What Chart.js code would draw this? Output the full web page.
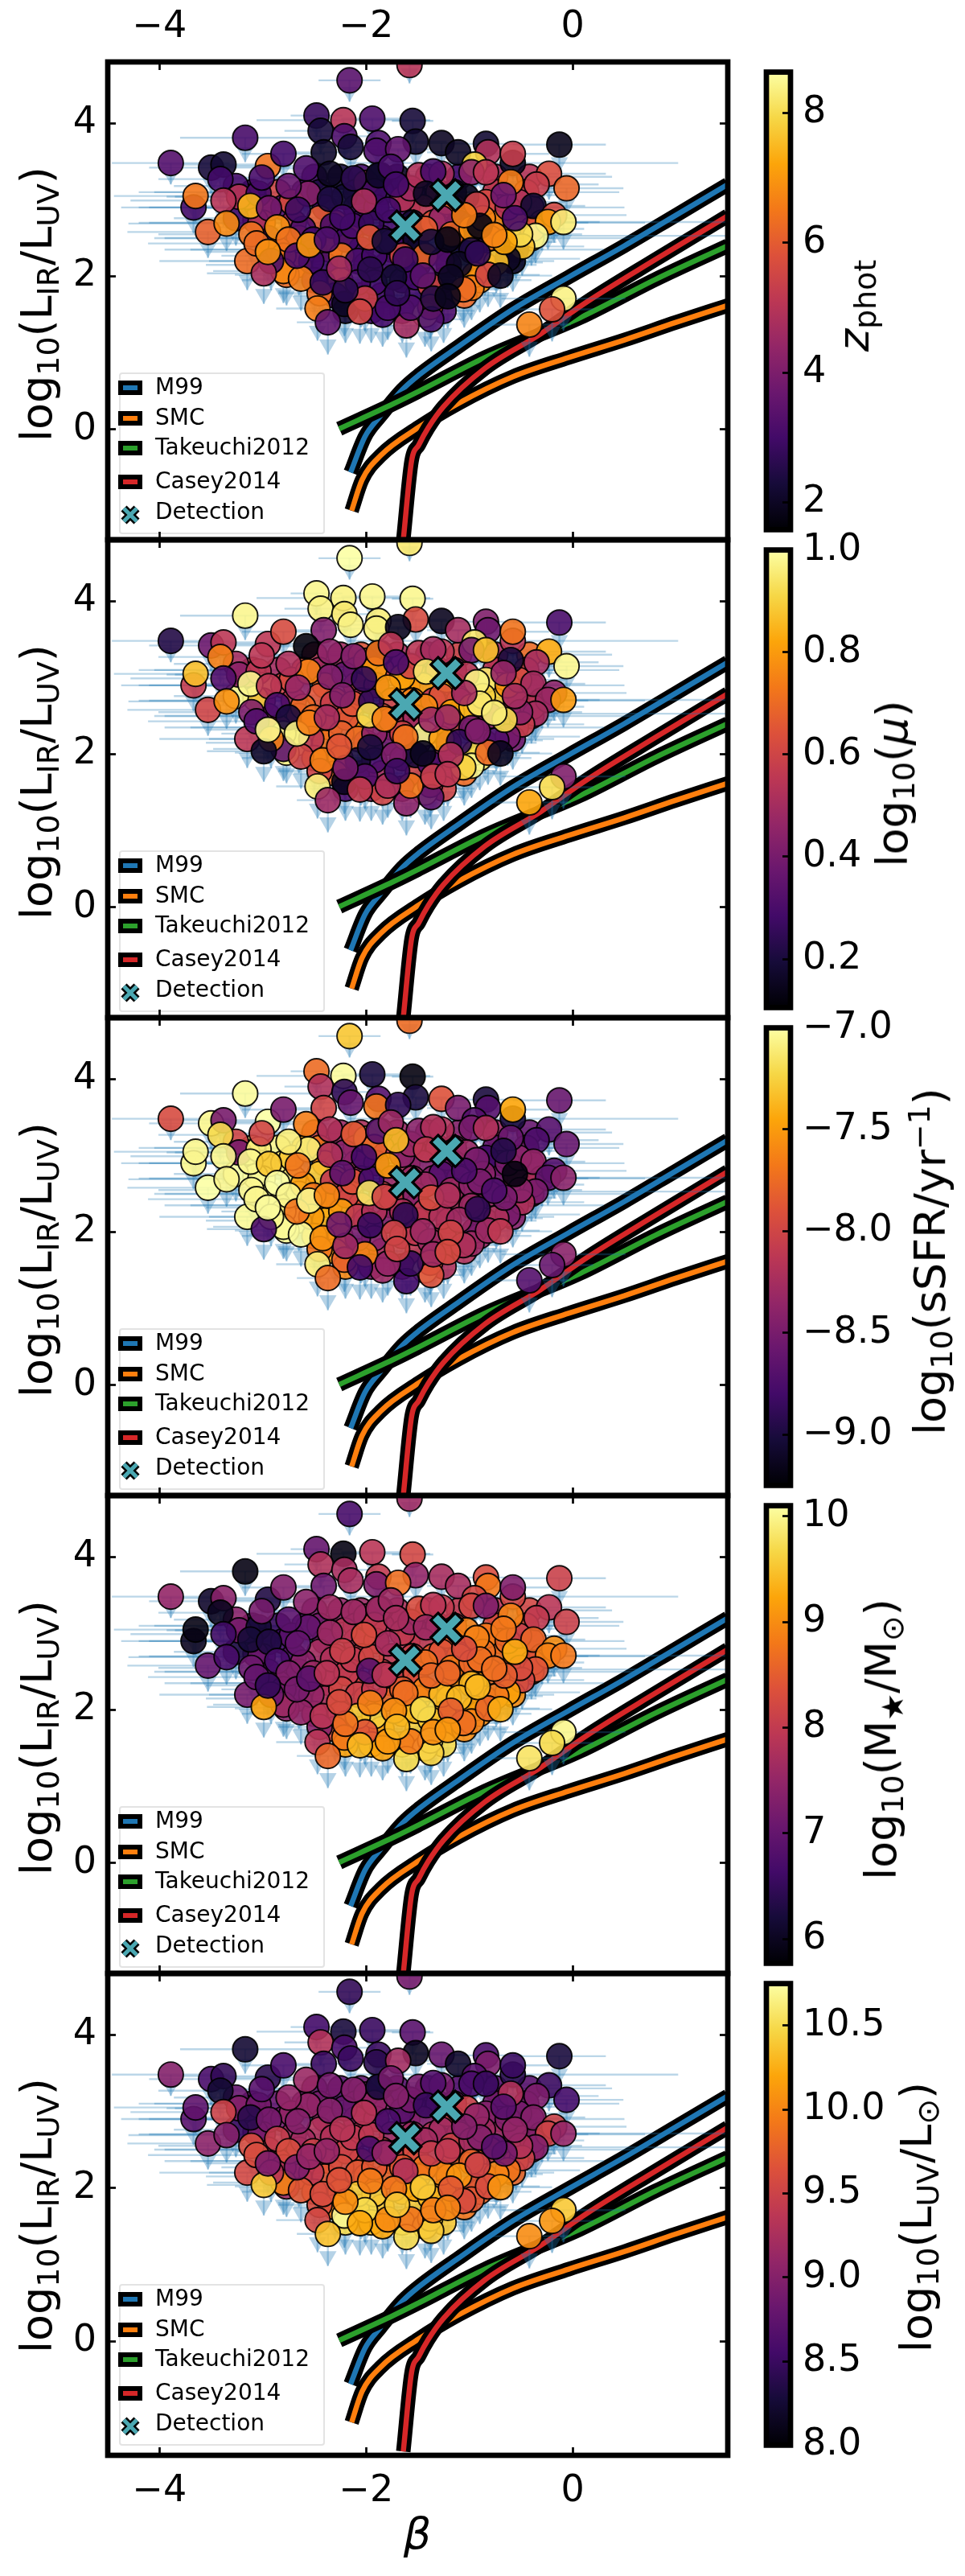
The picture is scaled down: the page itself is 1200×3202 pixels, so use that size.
<!DOCTYPE html>
<html>
<head>
<meta charset="utf-8">
<title>IRX beta</title>
<script src="https://cdn.jsdelivr.net/npm/chart.js@4/dist/chart.umd.min.js"></script>
<style>
  html, body { margin: 0; background: #fff; }
  #page { position: relative; width: 1200px; height: 3202px; overflow: hidden; }
  canvas { position: absolute; }
  .lab { position: absolute; white-space: nowrap; font: 54px "DejaVu Sans"; color: #000; line-height: 1; }
  .lab sub { font-size: .7em; vertical-align: -.24em; line-height: 0; }
  .lab sup { font-size: .7em; vertical-align: .5em; line-height: 0; }
  .lab i { font-style: italic; }
</style>
</head>
<body>
<div id="page"></div>
<script>
// galaxies, same order in every panel (last one is drawn on top)
const betas = [
  -2.5,-2.25,-2.05,-1.7,-1.4,-1.1,-.75,-.42,
  -3.1,-2.85,-2.6,-2.45,-2.1,-1.85,-1.55,-1.3,-1.15,-.75,-.45,
  -3.0,-2.8,-2.4,-2.1,-1.9,-1.6,-1.45,-1.15,-.7,-.4,
  -3.0,-2.7,-2.3,-2.05,-1.75,-1.55,-1.35,-1.1,-.75,-.55,-.3,
  -2.95,-2.65,-2.15,-1.85,-1.65,-1.05,-.8,-.4,
  -2.85,-2.5,-2.35,-2.05,-1.75,-1.5,-1.2,-.95,-.55,
  -2.65,-2.4,-2.0,-1.8,-1.5,-1.2,-.85,
  -2.25,-1.65,-1.25,-.9,-2.5,
  -2.3,-2.05,-1.85,-1.5,-1.25,-1.05,
  -2.2,-1.95,-1.65,-1.25,
  -2.72,-2.56,-2.45,-2.61,-2.51,-2.32,-2.19,-2.24,-2.08,-1.92,
  -1.76,-1.52,-1.65,-1.43,-1.27,-1.52,-1.38,-1.92,-2.08,-2.21,
  -1.84,-1.43,-1.38,-2.13,-1.95,-2.21,-2.0,-1.86,-1.92,-1.65,
  -1.57,-1.49,-1.27,-1.22,-1.27,-1.43,-1.17,-.98,-.84,-.87,
  -.63,-.39,-.52,-.98,-.95,-.98,-.58,-3.07,-3.15,-3.26,
  -3.26,-2.95,-3.23,-3.04,-2.8,-2.77,-2.53,-2.45,-.09,-.2,
  -.42,-3.89,-2.16,-1.58,-2.48,-2.22,-1.94,-1.55,-2.44,-3.17,
  -2.21,-1.88,-2.8,-2.15,-1.52,-1.9,-1.69,-2.41,-1.27,-1.11,
  -.84,-.82,-.58,-.58,-.13,-.23,-.06,-.6,-.35,-.38,
  -.18,-.24,-.36,-.49,-.51,-.63,-.74,-.82,-.7,-.95,
  -.98,-.84,-1.03,-.93,-.9,-3.5,-3.38,-3.67,-3.65,-3.53,
  -3.41,-3.38,-3.35,-3.12,-2.94,-3.01,-2.75,-2.66,-2.86,-2.75,
  -3.11,-3.15,-3.06,-2.8,-2.92,-2.99,-2.95,-2.63,-2.67,-2.55,
  -2.58,-2.35,-2.12,-1.88,-1.76,-1.71,-1.35,-1.42,-2.02,-1.79,
  -2.35,-2.23,-2.38,-1.97,-1.82,-1.62,-2.01,-2.47,-2.42,-2.2,
  -2.26,-1.96,-2.06,-2.37,-1.45,-1.73,-1.37,-1.61,-1.57,-1.79,
  -1.7,-1.06,-1.1,-1.18,-1.35,-1.21,-.92,-1.05,-1.37,-1.21,
  -.66,-.76,-.67,-.56,-.09
];
const irx = [
  3.3,3.3,3.3,3.3,3.3,3.3,3.3,3.3,
  3.1,3.1,3.1,3.1,3.1,3.1,3.1,3.1,3.1,3.1,3.1,
  2.9,2.9,2.9,2.9,2.9,2.9,2.9,2.9,2.9,2.9,
  2.7,2.7,2.7,2.7,2.7,2.7,2.7,2.7,2.7,2.7,2.7,
  2.5,2.5,2.5,2.5,2.5,2.5,2.5,2.5,
  2.35,2.35,2.35,2.35,2.35,2.35,2.35,2.35,2.35,
  2.15,2.15,2.15,2.15,2.15,2.15,2.15,
  1.95,1.95,1.95,1.95,1.95,
  1.75,1.75,1.75,1.75,1.75,1.75,
  1.55,1.55,1.55,1.55,
  2.97,3.08,2.76,2.62,2.48,2.66,2.48,2.27,2.2,2.27,
  2.45,2.48,2.27,2.27,2.2,1.99,1.88,1.92,1.92,1.64,
  1.5,1.5,1.6,2.66,2.69,3.04,3.22,3.32,3.11,3.01,
  3.15,3.32,3.34,2.97,2.76,2.62,2.55,2.62,2.97,2.76,
  2.9,2.62,2.97,2.34,2.02,1.85,2.2,2.73,3.04,3.18,
  2.76,3.44,3.04,3.08,2.27,2.02,2.2,1.78,1.71,1.57,
  1.37,3.48,4.56,4.76,4.1,4.04,4.06,4.03,3.9,3.81,
  3.83,3.74,3.6,3.69,3.76,3.64,3.66,3.62,3.74,3.62,
  3.73,3.62,3.48,3.6,3.72,3.34,3.15,3.23,3.2,2.92,
  2.8,2.71,2.53,2.39,2.55,2.23,2.18,2.02,2.01,3.46,
  3.36,3.36,3.04,2.94,2.66,3.42,3.46,2.9,3.05,2.58,
  3.27,2.99,2.69,2.92,2.89,3.29,3.18,2.87,2.64,2.48,
  2.55,2.2,2.43,2.07,2.2,2.04,2.32,1.97,2.27,2.41,
  3.41,3.34,3.28,3.32,3.43,3.2,3.37,3.08,2.98,2.87,
  3.01,2.77,2.48,2.51,2.46,2.22,1.71,1.58,1.92,1.82,
  2.1,2.09,1.54,1.4,2.01,1.99,1.44,1.36,1.59,1.59,
  1.78,1.83,2.16,1.99,1.71,1.74,2.3,2.8,2.45,2.48,
  2.45,2.54,3.06,2.76,2.71
];
const betaErr = [
  .5,.4,.4,.4,.4,.4,.5,.8,
  1.1,1.2,.7,.5,.4,.4,.4,.4,.4,.7,.9,
  1.2,1.3,.6,.4,.4,.4,.4,.5,.6,.9,
  1.2,1.4,.6,.4,.4,.4,.4,.5,.6,.7,1.0,
  1.1,1.3,.5,.4,.4,.4,.6,1.0,
  1.1,1.2,.6,.4,.4,.4,.4,.5,.85,
  .9,.7,.4,.4,.4,.4,.5,
  .5,.4,.4,.5,.7,
  .4,.4,.4,.3,.3,.4,
  .35,.3,.3,.3,
  .5,.4,.4,.5,.4,.4,.4,.35,.3,.3,
  .3,.3,.3,.3,.35,.3,.3,.3,.3,.3,
  .3,.3,.3,.35,.3,.35,.4,.3,.4,.3,
  .3,.4,.3,.3,.3,.35,.4,.4,.4,.4,
  .5,.5,.45,.4,.35,.3,.4,.6,.7,.6,
  .6,.5,.7,.6,.6,.5,.45,.4,.6,.4,
  .4,.57,.3,.1,.25,.84,.3,.2,.35,.63,
  .3,.3,.4,.3,.3,.3,.3,.3,.25,.3,
  .35,.35,1.6,.35,.45,.55,.55,.5,.6,.5,
  .7,.5,1.85,.6,.6,.7,.45,.5,.5,.4,
  .4,.45,.35,.45,.35,.6,.6,.7,.79,.78,
  .6,.9,.95,.6,.6,.55,.5,.5,.6,.5,
  .9,.85,1.05,.68,.6,.55,.6,.5,.5,.5,
  .5,.4,.4,.35,.3,.35,.3,.3,.4,.35,
  .4,.4,.4,.4,.3,.35,.35,.4,.35,.35,
  .4,.35,.3,.3,.3,.3,.3,.25,.3,.3,
  .35,.35,.35,.35,.3,.3,.4,.4,.35,.35,
  .5,.5,.5,.6,1.6
];
// how far below the point the upper-limit arrow ends, in dex
const limDrop = [
  .32,.32,.32,.32,.32,.32,.32,.32,
  .32,.32,.32,.32,.32,.32,.32,.32,.32,.32,.32,
  .34,.34,.34,.34,.34,.34,.34,.34,.34,.34,
  .36,.36,.36,.36,.36,.36,.36,.36,.36,.36,.36,
  .36,.36,.36,.36,.36,.36,.36,.36,
  .38,.38,.38,.38,.38,.38,.38,.38,.38,
  .4,.4,.4,.4,.4,.4,.4,
  .42,.42,.42,.42,.42,
  .42,.42,.42,.42,.42,.42,
  .42,.42,.42,.42,
  .32,.32,.36,.36,.36,.36,.36,.36,.4,.4,
  .36,.36,.4,.4,.4,.4,.42,.42,.42,.42,
  .42,.42,.42,.36,.36,.32,.32,.32,.32,.32,
  .32,.32,.32,.32,.36,.36,.36,.36,.32,.36,
  .32,.36,.32,.4,.4,.42,.4,.36,.32,.32,
  .36,.32,.32,.32,.36,.4,.4,.42,.42,.42,
  .42,.28,.28,.24,.28,.28,.3,.3,.3,.32,
  .3,.3,.32,.32,.32,.32,.32,.32,.3,.32,
  .3,.3,.34,.34,.36,.34,.34,.34,.34,.36,
  .36,.36,.36,.38,.36,.38,.4,.42,.42,.32,
  .32,.34,.32,.34,.36,.34,.34,.34,.34,.34,
  .34,.34,.36,.34,.34,.32,.32,.34,.36,.36,
  .36,.38,.38,.42,.38,.4,.38,.42,.38,.38,
  .32,.32,.32,.32,.32,.32,.32,.34,.34,.34,
  .34,.36,.36,.36,.36,.38,.42,.42,.42,.42,
  .4,.4,.42,.42,.42,.42,.42,.42,.42,.42,
  .42,.42,.4,.42,.42,.42,.38,.36,.36,.36,
  .38,.36,.34,.36,.36
];
const zphot = [
  3.0,2.3,3.1,2.0,4.8,3.0,4.7,5.0,
  3.0,5.5,3.1,2.4,2.8,2.5,3.0,5.0,2.2,5.2,5.5,
  5.0,3.2,3.0,2.9,3.0,3.2,5.2,4.5,5.4,4.8,
  6.0,5.0,6.2,3.0,3.1,2.2,5.8,2.0,6.8,7.0,5.2,
  3.2,5.7,6.3,3.0,3.0,2.1,6.5,7.5,
  6.2,3.2,6.4,3.0,3.1,2.4,2.3,2.6,2.0,
  6.4,3.0,2.9,3.1,2.8,2.5,6.5,
  6.5,3.0,2.3,6.9,3.1,
  3.0,3.2,3.0,3.0,2.7,6.2,
  2.2,3.0,3.1,3.2,
  5.7,4.2,6.0,3.2,3.0,3.1,3.0,6.4,3.1,3.0,
  3.0,2.1,5.6,6.2,3.3,3.0,5.5,3.0,3.1,2.0,
  3.0,8.5,5.6,3.1,2.8,2.2,5.0,1.9,2.9,5.0,
  4.6,4.9,4.8,6.2,4.4,6.0,6.2,6.9,5.6,6.7,
  5.0,5.9,4.9,2.4,6.9,6.6,2.0,4.7,5.0,3.0,
  3.0,6.4,5.0,3.0,6.5,6.3,3.0,6.3,8.4,5.8,
  6.7,3.3,3.4,5.0,2.8,5.0,3.2,2.3,2.3,3.1,
  3.2,3.2,3.0,2.3,2.1,3.2,3.5,2.1,2.0,2.0,
  2.2,4.9,2.0,5.3,1.9,5.7,6.2,6.6,5.3,2.2,
  5.6,7.1,8.5,7.6,8.0,2.0,7.6,5.5,2.0,7.9,
  4.3,5.1,1.9,5.4,1.8,2.3,2.2,3.0,6.5,6.1,
  3.0,5.0,6.8,7.4,3.9,3.1,3.6,2.9,6.9,6.4,
  6.4,6.3,6.3,6.8,3.2,4.8,6.9,6.6,3.2,7.0,
  3.2,2.0,2.6,2.1,3.1,3.0,3.1,2.0,4.8,3.0,
  2.4,3.0,3.2,5.9,2.3,2.9,5.4,6.6,2.8,2.6,
  4.6,2.6,5.5,3.5,3.4,2.2,3.2,4.7,3.2,3.1,
  2.7,6.3,2.0,2.0,2.5,1.9,2.7,6.6,2.3,1.8,
  7.2,6.7,3.7,3.1,8.3
];
const logMu = [
  .55,.5,.65,.5,.35,.6,.5,.7,
  .6,.5,.65,.5,.45,.6,.7,.55,.4,.55,.6,
  .95,.6,.7,.6,.55,.75,.8,.6,.9,.5,
  .5,.55,.7,.5,.6,.75,.55,.55,.9,.6,.5,
  .45,.6,.72,.65,.7,.85,.45,.5,
  .55,.65,.7,.78,.6,.68,.6,.4,.45,
  .97,.72,.5,.4,.3,.45,.35,
  .75,.4,.5,.95,.75,
  .7,.25,.5,.6,.55,.7,
  .3,.45,.5,.6,
  .62,.75,.65,.7,.7,.58,.65,.68,.7,.45,
  .55,.48,.6,.98,.8,.2,.3,.3,.2,.15,
  .6,.98,.55,.65,.25,.35,.62,.15,.8,.82,
  .6,.55,.55,.85,.65,.77,.82,.85,.95,.9,
  .78,.55,.62,.4,.92,.98,.4,.9,.55,.5,
  .98,.55,.45,.55,.98,.97,.55,.6,.42,.92,
  .82,.22,1.0,.95,.98,.97,.98,.98,.97,.98,
  .95,.96,.62,.97,.62,.97,.15,.42,.15,.5,
  .42,.38,.55,.72,.3,.83,.98,.2,.5,.5,
  .45,.48,.5,.58,.45,.4,.32,.7,.15,.95,
  .4,.87,.55,.97,.95,.38,.55,.57,.87,.6,
  .75,.32,.78,.98,.55,.55,.52,.47,.3,.2,
  .42,.55,.32,.35,.75,.17,.98,.6,.97,.75,
  .12,.45,.42,.72,.55,.3,.5,.95,.25,.8,
  .42,.42,.5,.92,.75,.72,.33,.96,.75,.4,
  .65,.2,.57,.48,.15,.42,.35,.45,.72,.52,
  .27,.9,.25,.52,.58,.55,.42,.5,.48,.48,
  .92,.96,.47,.5,.8
];
const logSSFR = [
  -8.0,-8.3,-8.2,-8.3,-8.4,-8.4,-8.3,-8.6,
  -7.1,-7.05,-7.4,-7.7,-8.1,-8.1,-8.3,-8.3,-8.4,-8.6,-8.5,
  -7.05,-7.1,-7.6,-8.2,-8.4,-8.2,-8.4,-8.6,-8.6,-8.4,
  -7.03,-7.1,-7.5,-8.3,-8.3,-8.3,-8.4,-8.3,-8.5,-8.3,-8.3,
  -7.05,-7.03,-7.8,-8.0,-8.1,-8.2,-8.3,-8.3,
  -7.03,-7.2,-7.6,-7.9,-8.1,-8.2,-8.2,-8.4,-8.4,
  -7.03,-7.4,-8.3,-8.4,-8.2,-8.1,-8.3,
  -7.6,-8.2,-8.2,-8.3,-7.4,
  -7.5,-8.2,-8.2,-8.1,-8.2,-8.2,
  -7.6,-8.5,-8.4,-8.2,
  -7.3,-7.1,-7.3,-7.5,-7.7,-8.1,-8.0,-7.5,-8.1,-8.2,
  -8.1,-8.4,-8.2,-8.1,-8.2,-8.1,-8.3,-8.4,-8.5,-7.8,
  -8.3,-7.0,-7.9,-7.9,-8.8,-8.4,-7.3,-7.2,-7.8,-8.4,
  -8.3,-8.4,-8.2,-8.5,-8.7,-8.3,-8.3,-8.4,-8.8,-8.4,
  -8.5,-8.2,-8.4,-8.3,-8.5,-8.3,-8.4,-7.03,-7.0,-8.0,
  -7.0,-7.0,-8.5,-7.1,-7.1,-7.03,-7.5,-7.7,-8.4,-8.6,
  -8.7,-7.95,-7.3,-7.75,-7.75,-7.02,-9.0,-9.2,-8.2,-7.02,
  -8.9,-8.7,-8.5,-8.6,-9.0,-7.7,-8.9,-8.0,-7.9,-8.5,
  -9.0,-8.7,-9.0,-7.45,-8.6,-8.7,-8.6,-8.6,-8.75,-8.35,
  -8.7,-8.65,-8.5,-8.2,-8.4,-8.5,-8.2,-8.3,-8.1,-8.7,
  -8.5,-8.2,-8.3,-8.5,-8.5,-7.05,-8.5,-7.05,-7.05,-7.0,
  -7.2,-7.05,-7.05,-7.05,-7.3,-8.0,-7.1,-7.7,-7.0,-7.05,
  -7.05,-7.03,-7.05,-7.03,-7.05,-8.75,-7.02,-7.02,-7.7,-7.05,
  -7.65,-8.2,-7.85,-8.7,-8.3,-7.35,-8.2,-8.1,-8.8,-7.5,
  -8.2,-8.65,-7.6,-7.15,-8.0,-8.9,-7.6,-7.1,-7.55,-8.3,
  -8.55,-8.85,-8.8,-7.75,-8.3,-8.0,-7.9,-8.8,-8.85,-8.35,
  -8.0,-8.2,-8.3,-8.0,-8.3,-7.95,-8.9,-8.75,-7.95,-8.2,
  -8.5,-8.75,-8.95,-9.2,-8.4
];
const logMstar = [
  7.3,7.5,7.6,7.8,7.7,8.0,7.9,8.2,
  6.4,6.5,6.8,7.2,7.6,7.8,7.8,7.9,8.1,8.3,8.4,
  6.5,6.6,7.2,7.7,8.0,7.9,8.0,8.3,8.7,8.4,
  6.8,6.9,7.6,8.0,8.0,8.1,8.5,8.7,8.7,8.5,8.5,
  7.0,7.2,8.0,8.1,8.4,8.9,8.7,8.5,
  7.3,7.5,7.8,8.2,8.4,8.6,9.0,9.2,9.0,
  7.4,7.8,8.4,8.6,9.0,9.4,8.9,
  8.2,9.3,9.3,9.0,7.8,
  8.3,8.8,9.2,9.6,9.2,9.0,
  9.2,9.4,9.5,9.7,
  6.9,7.0,7.7,7.4,7.6,7.8,8.0,8.2,8.1,8.0,
  8.1,8.3,8.5,8.9,9.4,9.4,9.5,9.6,9.5,8.8,
  9.2,10.0,9.9,8.0,8.2,7.9,7.7,7.5,8.0,8.0,
  7.6,8.3,8.0,8.5,8.4,8.7,8.8,8.6,8.8,8.7,
  8.6,8.4,8.1,9.4,9.2,8.9,9.0,7.1,6.7,7.4,
  6.3,6.3,7.2,6.2,7.2,7.4,7.5,7.4,10.0,9.7,
  9.8,7.5,6.7,7.6,7.0,5.9,7.9,8.2,7.8,5.9,
  7.7,8.0,7.3,7.7,7.5,7.3,8.7,7.1,7.7,7.7,
  8.3,8.8,8.2,7.3,8.1,7.9,8.1,8.9,8.0,8.6,
  9.0,8.9,8.4,8.2,8.3,9.2,8.8,8.6,9.3,8.2,
  8.2,7.3,8.9,8.9,8.7,6.1,7.4,6.0,5.9,7.0,
  6.0,6.6,6.7,6.2,6.3,7.2,6.9,7.0,6.7,7.3,
  7.1,7.2,7.0,7.6,7.1,9.2,6.5,7.5,7.2,6.9,
  7.4,7.6,7.6,7.6,7.6,7.7,7.9,7.6,8.3,7.7,
  7.6,8.1,7.9,6.9,7.9,8.7,8.4,7.9,7.9,8.7,
  8.3,8.9,9.4,8.6,9.7,9.0,9.6,9.7,8.8,9.1,
  9.4,8.7,9.4,8.5,9.0,9.1,9.4,8.3,8.6,8.6,
  8.5,8.7,8.8,9.3,8.8
];
const logLuv = [
  8.8,8.7,8.8,8.7,8.7,8.7,8.7,8.7,
  8.7,8.8,8.9,8.9,8.9,9.0,8.8,8.8,9.0,8.9,8.9,
  8.9,8.9,9.1,9.1,9.1,9.0,9.0,9.1,9.1,9.0,
  9.1,9.2,9.3,9.3,9.2,9.2,9.3,9.3,9.2,9.2,9.1,
  9.4,9.4,9.5,9.5,9.5,9.6,9.5,9.3,
  9.5,9.5,9.6,9.6,9.6,9.7,9.8,9.8,9.8,
  9.6,9.7,9.8,9.8,10.0,10.1,9.9,
  9.9,10.3,10.1,9.8,9.7,
  10.0,10.3,10.4,10.4,10.3,9.9,
  10.5,10.4,10.5,10.4,
  9.1,9.1,9.3,9.2,9.5,9.3,9.5,9.6,9.7,9.7,
  9.5,9.6,9.7,9.9,10.0,10.2,10.3,10.4,10.4,10.7,
  10.2,10.5,10.4,9.4,9.4,8.8,9.0,8.4,9.1,8.7,
  8.9,8.9,8.9,9.5,9.2,9.2,9.5,9.2,9.0,9.2,
  9.0,9.0,8.9,9.8,9.7,9.7,9.8,8.9,8.6,8.8,
  8.5,8.4,9.0,8.9,9.3,9.2,9.4,9.6,10.4,10.1,
  10.05,9.0,8.45,8.9,8.55,8.3,8.5,8.7,9.3,8.25,
  8.6,8.5,8.6,8.5,8.15,8.4,9.2,8.5,8.8,8.2,
  8.6,8.95,8.4,8.5,8.3,8.5,8.55,9.3,8.95,9.0,
  9.5,9.5,9.0,9.5,9.3,9.9,10.0,9.6,10.1,8.7,
  8.6,8.5,9.5,9.1,9.0,8.6,8.45,8.7,8.75,9.05,
  8.25,9.5,9.0,8.4,8.9,8.7,9.1,9.0,9.45,9.6,
  9.6,9.55,9.6,10.0,9.35,10.4,8.95,9.7,8.95,9.1,
  9.15,8.9,9.0,8.3,8.9,9.0,8.65,8.5,9.35,8.6,
  9.0,9.35,9.1,8.6,9.1,9.3,10.5,9.55,9.6,10.05,
  9.65,9.95,10.2,10.35,10.4,9.9,10.4,10.5,9.9,10.05,
  10.4,9.6,10.1,9.7,9.95,10.0,9.5,9.0,9.45,9.4,
  8.9,8.7,8.7,9.1,9.1
];

// the two detections
const detBeta = [-1.22, -1.62];
const detIrx = [3.06, 2.65];

// attenuation curves
const m99Beta = [-2.15,-2.01,-1.86,-1.65,-1.49,-1.11,-.58,-.04,.5,1,1.5];
const m99Irx = [-.56,-.09,.18,.52,.71,1.08,1.57,1.99,2.4,2.8,3.2];
const smcBeta = [-2.14,-2.04,-1.86,-1.49,-1.11,-.58,-.04,.5,1,1.5];
const smcIrx = [-1.06,-.66,-.34,.03,.34,.69,.94,1.17,1.4,1.62];
const takBeta = [-2.26,-1.73,-1.49,-.85,.07,.8,1.5];
const takIrx = [.01,.34,.5,.94,1.46,1.96,2.4];
const casBeta = [-1.64,-1.56,-1.49,-1.4,-1.25,-.85,-.31,.14,.8,1.5];
const casIrx = [-1.44,-.41,-.2,.02,.3,.8,1.25,1.67,2.22,2.79];

const xTicks = [-4, -2, 0];
const yTicks = [0, 2, 4];
const xRange = [-4.5, 1.5];
const yMax = 4.8;
const yMins = [-1.44, -1.44, -1.44, -1.44, -1.49];

const legendLabels = ['M99', 'SMC', 'Takeuchi2012', 'Casey2014', 'Detection'];
const curveColors = ['#1f77b4', '#ff7f0e', '#2ca02c', '#d62728'];
const detColor = '#4ba8b2';

// inferno, 11 stops
const infernoStops = ['#000004','#160b39','#420a68','#6a176e','#932667','#bc3754','#dd513a','#f37819','#fca50a','#f6d746','#fcffa4'];

const panels = [
  { values: zphot, range: [1.58, 8.63], ticks: [2,4,6,8], labels: ['2','4','6','8'],
    title: '<i>z</i><sub>phot</sub>', titleX: 1062 },
  { values: logMu, range: [.105, 1.0], ticks: [.2,.4,.6,.8,1.0], labels: ['0.2','0.4','0.6','0.8','1.0'],
    title: 'log<sub>10</sub>(<i>μ</i>)', titleX: 1110 },
  { values: logSSFR, range: [-9.25, -7.0], ticks: [-9,-8.5,-8,-7.5,-7], labels: ['−9.0','−8.5','−8.0','−7.5','−7.0'],
    title: 'log<sub>10</sub>(sSFR/yr<sup>−1</sup>)', titleX: 1157 },
  { values: logMstar, range: [5.77, 10.1], ticks: [6,7,8,9,10], labels: ['6','7','8','9','10'],
    title: 'log<sub>10</sub>(M<sub>★</sub>/M<sub>⊙</sub>)', titleX: 1096 },
  { values: logLuv, range: [8.0, 10.75], ticks: [8,8.5,9,9.5,10,10.5], labels: ['8.0','8.5','9.0','9.5','10.0','10.5'],
    title: 'log<sub>10</sub>(L<sub>UV</sub>/L<sub>⊙</sub>)', titleX: 1140 }
];

const PANEL_TOP = 77, PANEL_H = 594, LAST_H = 599, PAD = 70;
const AXES_LEFT = 134, AXES_RIGHT = 905, CANVAS_W = 960;
const page = document.getElementById('page');

Chart.defaults.font.family = '"DejaVu Sans"';
Chart.defaults.color = '#000';
Chart.defaults.animation = false;

function hexRgb(h) {
  return [1, 3, 5].map(i => parseInt(h.slice(i, i + 2), 16));
}

function inferno(t, alpha) {
  t = Math.min(1, Math.max(0, t)) * (infernoStops.length - 1);
  const i = Math.min(Math.floor(t), infernoStops.length - 2);
  const a = hexRgb(infernoStops[i]), b = hexRgb(infernoStops[i + 1]), f = t - i;
  const c = a.map((v, k) => Math.round(v + (b[k] - v) * f));
  return `rgba(${c[0]},${c[1]},${c[2]},${alpha})`;
}

function zip(xs, ys) {
  return xs.map((x, i) => ({ x, y: ys[i] }));
}

function panelHeight(idx) {
  return idx === panels.length - 1 ? LAST_H : PANEL_H;
}

// spines go over everything
const framePlugin = {
  id: 'frame',
  afterDraw(chart) {
    const { ctx, chartArea: a } = chart;
    ctx.save();
    ctx.strokeStyle = '#000';
    ctx.lineWidth = 6.7;
    ctx.strokeRect(a.left, a.top, a.right - a.left, a.bottom - a.top);
    ctx.restore();
  }
};

const legendRows = [405, 443, 480, 522, 560];
const legendPlugin = {
  id: 'boxLegend',
  afterDatasetsDraw(chart) {
    const { ctx, chartArea: a } = chart;
    ctx.save();
    ctx.beginPath();
    ctx.roundRect(a.left + 15, a.top + 387, 254, 199, 3);
    ctx.fillStyle = 'rgba(255,255,255,0.8)';
    ctx.fill();
    ctx.strokeStyle = 'rgba(215,215,215,0.7)';
    ctx.lineWidth = 2;
    ctx.stroke();

    ctx.font = '28px "DejaVu Sans"';
    ctx.textBaseline = 'middle';
    legendLabels.forEach((label, i) => {
      const y = a.top + legendRows[i];
      if (i < curveColors.length) {
        ctx.fillStyle = '#000';
        ctx.fillRect(a.left + 13, y - 9, 30, 18);
        ctx.fillStyle = curveColors[i];
        ctx.fillRect(a.left + 19, y - 3, 18, 6);
      } else {
        const cx = a.left + 28, cy = y + 3, r = 8;
        [['#000', 10], [detColor, 5]].forEach(([col, w]) => {
          ctx.strokeStyle = col;
          ctx.lineWidth = w;
          ctx.beginPath();
          ctx.moveTo(cx - r, cy - r); ctx.lineTo(cx + r, cy + r);
          ctx.moveTo(cx + r, cy - r); ctx.lineTo(cx - r, cy + r);
          ctx.stroke();
        });
      }
      ctx.fillStyle = '#000';
      ctx.fillText(label, a.left + 59, y + 1);
    });
    ctx.restore();
  }
};

function axisCommon(tickVals, range) {
  return {
    min: range[0],
    max: range[1],
    afterBuildTicks: s => { s.ticks = tickVals.map(v => ({ value: v })); },
    border: { display: false },
    grid: { drawOnChartArea: false, drawTicks: true, tickLength: -10, tickWidth: 2.7, tickColor: '#000', z: 1 },
  };
}

function tickText(v) {
  return String(v).replace('-', '−');
}

function tickFont() {
  return { family: '"DejaVu Sans"', size: 46 };
}

function curveDatasets(xs, ys, color) {
  const base = { showLine: true, pointRadius: 0, cubicInterpolationMode: 'monotone', borderCapStyle: 'butt', borderJoinStyle: 'round', clip: 0 };
  return [
    { ...base, data: zip(xs, ys), borderColor: '#000', borderWidth: 18 },
    { ...base, data: zip(xs, ys), borderColor: color, borderWidth: 6.5 }
  ];
}

function errorPath() {
  const pts = [];
  betas.forEach((b, i) => {
    pts.push({ x: b - betaErr[i], y: irx[i] }, { x: b + betaErr[i], y: irx[i] }, { x: NaN, y: NaN });
    pts.push({ x: b, y: irx[i] }, { x: b, y: irx[i] - limDrop[i] }, { x: NaN, y: NaN });
  });
  return pts;
}

function makePanel(p, idx) {
  const top = PANEL_TOP + idx * PANEL_H;
  const h = panelHeight(idx);
  const yRange = [yMins[idx], yMax];
  const cv = document.createElement('canvas');
  cv.width = CANVAS_W;
  cv.height = h + 2 * PAD;
  cv.style.cssText = `left:0;top:${top - PAD}px;width:${CANVAS_W}px;height:${h + 2 * PAD}px`;
  page.appendChild(cv);

  const fills = p.values.map(v => inferno((v - p.range[0]) / (p.range[1] - p.range[0]), .9));

  // listed from back to front, order value takes care of chart.js stacking
  const layers = [
    ...curveDatasets(m99Beta, m99Irx, curveColors[0]),
    ...curveDatasets(smcBeta, smcIrx, curveColors[1]),
    ...curveDatasets(takBeta, takIrx, curveColors[2]),
    ...curveDatasets(casBeta, casIrx, curveColors[3]),
    // segment makes every bar stroke by itself, so overlaps get darker
    { data: errorPath(), showLine: true, pointRadius: 0, borderColor: 'rgba(31,119,180,0.3)', borderWidth: 2.4, segment: {}, clip: 0 },
    { data: betas.map((b, i) => ({ x: b, y: irx[i] - limDrop[i] + .13 })), pointStyle: 'triangle', pointRotation: 180,
      pointRadius: 12.5, pointBorderWidth: 0, pointBackgroundColor: 'rgba(31,119,180,0.33)', clip: 0 },
    { data: zip(betas, irx), pointRadius: 15.6, pointBorderWidth: 1.9, pointBorderColor: 'rgba(0,0,0,0.9)',
      pointBackgroundColor: fills, clip: 0 },
    { data: zip(detBeta, detIrx), pointStyle: 'crossRot', pointRadius: 23, pointBorderWidth: 16, pointBorderColor: '#000', clip: 0 },
    { data: zip(detBeta, detIrx), pointStyle: 'crossRot', pointRadius: 20, pointBorderWidth: 9.5, pointBorderColor: detColor, clip: 0 }
  ];
  layers.forEach((d, i) => { d.order = layers.length - i; });

  new Chart(cv, {
    type: 'scatter',
    data: { datasets: layers },
    options: {
      responsive: false,
      devicePixelRatio: 1,
      events: [],
      layout: { padding: 0 },
      plugins: { legend: { display: false }, tooltip: { enabled: false } },
      scales: {
        x: {
          ...axisCommon(xTicks, xRange),
          position: 'bottom',
          afterFit: s => { s.height = PAD; },
          ticks: { display: idx === panels.length - 1, padding: 27, font: tickFont(), callback: tickText, maxRotation: 0, minRotation: 0, autoSkip: false }
        },
        xTop: {
          ...axisCommon(xTicks, xRange),
          axis: 'x',
          position: 'top',
          afterFit: s => { s.height = PAD; },
          ticks: { display: idx === 0, padding: 25, font: tickFont(), callback: tickText, maxRotation: 0, minRotation: 0, autoSkip: false }
        },
        y: {
          ...axisCommon(yTicks, yRange),
          position: 'left',
          afterFit: s => { s.width = AXES_LEFT; },
          ticks: { padding: 24, font: tickFont(), callback: tickText, autoSkip: false }
        },
        yRight: {
          ...axisCommon(yTicks, yRange),
          axis: 'y',
          position: 'right',
          afterFit: s => { s.width = CANVAS_W - AXES_RIGHT; },
          ticks: { display: false }
        }
      }
    },
    plugins: [framePlugin, legendPlugin]
  });

  addLabel('log<sub>10</sub>(L<sub>IR</sub>/L<sub>UV</sub>)', 46, top + 301, true);
}

function makeColorbar(p, idx) {
  const top = PANEL_TOP + idx * PANEL_H;
  const h = panelHeight(idx);
  const barLeft = 953, barRight = 983, cvLeft = 930, pad = 40;
  const cv = document.createElement('canvas');
  const w = 1200 - cvLeft;
  cv.width = w;
  cv.height = h + 2 * pad;
  cv.style.cssText = `left:${cvLeft}px;top:${top - pad}px;width:${w}px;height:${h + 2 * pad}px`;
  page.appendChild(cv);

  new Chart(cv, {
    type: 'bar',
    data: {
      labels: [''],
      datasets: [{
        data: [p.range],
        barPercentage: 1,
        categoryPercentage: 1,
        backgroundColor: ctx => {
          const a = ctx.chart.chartArea;
          if (!a) return '#000';
          const g = ctx.chart.ctx.createLinearGradient(0, a.bottom, 0, a.top);
          infernoStops.forEach((c, i) => g.addColorStop(i / (infernoStops.length - 1), c));
          return g;
        }
      }]
    },
    options: {
      responsive: false,
      devicePixelRatio: 1,
      events: [],
      layout: { padding: { left: barLeft - cvLeft, top: pad, bottom: pad } },
      plugins: { legend: { display: false }, tooltip: { enabled: false } },
      scales: {
        x: { display: false },
        y: {
          ...axisCommon(p.ticks, p.range),
          position: 'right',
          afterFit: s => { s.width = 1200 - barRight; },
          ticks: { padding: 25, font: tickFont(), callback: (v, i) => p.labels[i], autoSkip: false }
        }
      }
    },
    plugins: [framePlugin]
  });

  addLabel(p.title, p.titleX, top + PANEL_H / 2 + 6, true);
}

function addLabel(html, x, y, rotated) {
  const el = document.createElement('div');
  el.className = 'lab';
  el.innerHTML = html;
  el.style.left = x + 'px';
  el.style.top = y + 'px';
  el.style.transform = `translate(-50%,-50%)${rotated ? ' rotate(-90deg)' : ''}`;
  page.appendChild(el);
}

panels.forEach(makePanel);
panels.forEach(makeColorbar);
addLabel('<i>β</i>', 519, 3150, false);
</script>
</body>
</html>
